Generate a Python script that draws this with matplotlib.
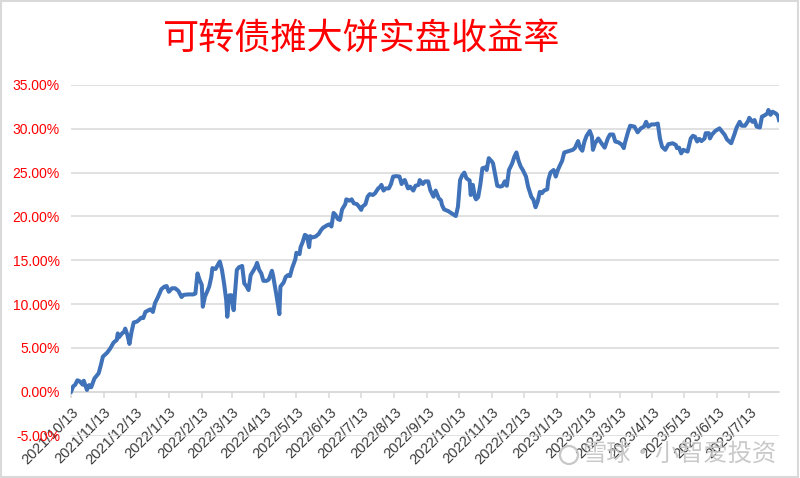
import pandas as pd
import matplotlib
matplotlib.use("Agg")
import matplotlib.pyplot as plt
from matplotlib.patches import Rectangle, Circle

plt.rcParams['font.family'] = ['Liberation Sans', 'Noto Sans CJK SC', 'DejaVu Sans']

# chart data
title = "可转债摊大饼实盘收益率"
watermark = "雪球·小智爱投资"
start_date = "2021-10-13"

# days since start_date
day_offset = [
    0, 2, 4, 6, 8, 11, 12, 15, 17, 19,
    22, 26, 28, 30, 34, 37, 40, 43, 44, 45,
    48, 50, 51, 53, 55, 57, 59, 62, 64, 66,
    68, 70, 73, 75, 77, 79, 82, 85, 88, 90,
    92, 95, 98, 101, 104, 106, 110, 115, 117, 119,
    121, 123, 124, 126, 128, 130, 132, 133, 136, 138,
    140, 142, 144, 146, 147, 149, 151, 153, 156, 158,
    161, 163, 165, 167, 169, 172, 174, 175, 177, 179,
    181, 184, 186, 189, 190, 193, 195, 196, 197, 200,
    202, 204, 206, 208, 211, 212, 215, 216, 218, 220,
    222, 224, 225, 227, 230, 233, 235, 237, 241, 243,
    245, 247, 249, 251, 253, 255, 258, 259, 262, 264,
    266, 269, 271, 273, 274, 277, 279, 281, 284, 286,
    289, 291, 292, 294, 296, 299, 301, 303, 306, 309,
    311, 313, 314, 317, 319, 322, 324, 327, 328, 331,
    333, 336, 338, 341, 343, 346, 348, 349, 351, 355,
    358, 362, 364, 366, 368, 370, 372, 375, 376, 378,
    380, 381, 383, 385, 387, 390, 391, 393, 396, 397,
    401, 404, 406, 408, 410, 412, 415, 417, 419, 421,
    423, 425, 428, 430, 433, 435, 437, 439, 441, 443,
    445, 448, 449, 451, 454, 456, 458, 460, 462, 464,
    468, 472, 474, 477, 479, 481, 483, 485, 488, 490,
    491, 493, 496, 499, 502, 505, 507, 510, 512, 515,
    518, 520, 521, 524, 526, 530, 533, 536, 539, 541,
    543, 546, 549, 552, 554, 556, 559, 562, 566, 569,
    570, 572, 574, 576, 580, 583, 585, 587, 589, 591,
    593, 596, 597, 600, 601, 603, 606, 610, 612, 615,
    617, 621, 624, 626, 629, 631, 634, 637, 638, 641,
    643, 645, 648, 650, 652, 655, 656, 658, 660, 663,
    665, 666,
]

# cumulative return, percent
returns_pct = [
    0.0, 0.6, 0.8, 1.3, 1.2, 0.8, 1.25, 0.2, 0.75, 0.5,
    1.5, 2.1, 3.0, 4.0, 4.45, 4.95, 5.6, 5.9, 6.65, 6.2,
    6.65, 6.85, 7.2, 6.5, 5.45, 6.85, 7.9, 8.0, 8.2, 8.45,
    8.4, 9.1, 9.3, 9.4, 9.1, 10.1, 10.85, 11.7, 12.0, 12.05,
    11.4, 11.8, 11.8, 11.5, 10.8, 11.05, 11.1, 11.1, 11.2, 13.5,
    12.75, 12.2, 9.7, 10.85, 11.4, 12.0, 13.1, 14.1, 14.0, 14.45,
    14.85, 13.9, 12.35, 10.45, 8.55, 11.0, 11.0, 9.3, 13.9, 14.2,
    14.35, 12.35, 12.05, 11.6, 13.3, 13.9, 14.35, 14.7, 13.9, 13.5,
    12.65, 12.65, 12.8, 13.8, 13.3, 11.2, 9.7, 8.85, 12.0, 12.45,
    13.1, 13.3, 13.2, 14.1, 15.1, 15.85, 15.7, 16.5, 17.1, 17.9,
    17.75, 16.5, 17.75, 17.6, 17.7, 18.0, 18.4, 18.7, 19.0, 19.1,
    18.85, 20.4, 20.15, 19.7, 19.6, 20.8, 21.4, 21.95, 21.8, 21.95,
    21.5, 21.4, 21.1, 20.75, 21.1, 21.4, 22.25, 22.55, 22.45, 22.65,
    23.2, 23.4, 23.6, 22.95, 23.2, 23.2, 23.7, 24.55, 24.6, 24.55,
    23.7, 24.1, 24.15, 23.2, 23.4, 22.95, 23.5, 23.6, 24.15, 23.7,
    24.0, 24.0, 23.0, 22.25, 22.95, 22.05, 21.85, 21.3, 20.8, 20.6,
    20.35, 20.05, 21.1, 24.15, 24.7, 25.0, 24.35, 24.1, 22.45, 23.6,
    22.2, 21.95, 22.2, 23.6, 25.5, 25.6, 25.3, 26.65, 26.25, 26.05,
    23.5, 23.4, 23.5, 24.0, 23.5, 25.3, 26.05, 26.8, 27.3, 26.35,
    25.7, 25.3, 24.55, 23.4, 22.25, 21.9, 21.05, 21.7, 22.8, 22.65,
    22.95, 23.1, 24.15, 25.0, 25.3, 24.55, 25.3, 25.85, 26.35, 27.3,
    27.45, 27.6, 27.8, 28.6, 27.8, 27.5, 28.55, 29.2, 29.75, 29.1,
    27.6, 28.35, 28.9, 28.35, 27.85, 28.9, 29.35, 29.35, 28.55, 28.45,
    28.2, 27.8, 28.35, 29.65, 30.35, 30.25, 29.6, 30.05, 30.25, 30.8,
    30.25, 30.5, 30.5, 30.6, 28.9, 27.95, 27.6, 28.25, 28.35, 28.15,
    27.8, 27.85, 27.2, 27.6, 27.4, 28.9, 29.2, 29.1, 28.55, 28.85,
    28.6, 28.9, 29.5, 29.5, 28.9, 29.35, 29.75, 30.05, 29.75, 29.3,
    28.8, 28.35, 29.35, 30.1, 30.8, 30.35, 30.35, 30.9, 31.25, 30.8,
    31.0, 30.25, 30.15, 31.4, 31.5, 31.75, 32.15, 31.6, 31.95, 31.75,
    31.5, 31.0,
]

tick_dates = [
    "2021-10-13", "2021-11-13", "2021-12-13", "2022-01-13", "2022-02-13",
    "2022-03-13", "2022-04-13", "2022-05-13", "2022-06-13", "2022-07-13",
    "2022-08-13", "2022-09-13", "2022-10-13", "2022-11-13", "2022-12-13",
    "2023-01-13", "2023-02-13", "2023-03-13", "2023-04-13", "2023-05-13",
    "2023-06-13", "2023-07-13",
]
tick_labels = [
    "2021/10/13", "2021/11/13", "2021/12/13", "2022/1/13", "2022/2/13",
    "2022/3/13", "2022/4/13", "2022/5/13", "2022/6/13", "2022/7/13",
    "2022/8/13", "2022/9/13", "2022/10/13", "2022/11/13", "2022/12/13",
    "2023/1/13", "2023/2/13", "2023/3/13", "2023/4/13", "2023/5/13",
    "2023/6/13", "2023/7/13",
]
y_ticks = [-5, 0, 5, 10, 15, 20, 25, 30, 35]

start = pd.Timestamp(start_date)
dates = start + pd.to_timedelta(day_offset, unit='D')

fig = plt.figure(figsize=(8, 4.78), dpi=100)
ax = fig.add_axes([71 / 800, 1 - 435.5 / 478, 708 / 800, 350.5 / 478])

ax.plot(dates, returns_pct, color='#3F72B8', lw=2.9, solid_joinstyle='round', zorder=3)

ax.set_ylim(-5, 35)
ax.set_xlim(start, start + pd.Timedelta(days=666))

# y axis: red percent labels, no axis line
ax.set_yticks(y_ticks)
ax.set_yticklabels([f"{v:.2f}%" for v in y_ticks], color='red', fontsize=10)
ax.tick_params(axis='y', length=0, pad=8)
ax.grid(axis='y', color='#D9D9D9', lw=1.1)
ax.set_axisbelow(True)

for s in ['left', 'right', 'top']:
    ax.spines[s].set_visible(False)
ax.spines['bottom'].set_position(('data', 0))
ax.spines['bottom'].set_color('#D9D9D9')
ax.spines['bottom'].set_linewidth(1.1)

# x axis: monthly date labels, rotated
ax.set_xticks(pd.to_datetime(tick_dates))
ax.set_xticklabels(tick_labels, rotation=45, ha='right', va='top',
                   rotation_mode='anchor', fontsize=10.5, color='#3A3A3A')
ax.tick_params(axis='x', length=4, color='#D9D9D9', width=1.1, pad=6)

fig.text(362 / 800, 1 - 38.5 / 478, title, ha='center', va='center',
         color='red', fontsize=26, family=['Noto Sans CJK SC'])

# watermark
fig.text(582 / 800, 1 - 455 / 478, watermark, ha='left', va='center',
         color='#C4C4C4', fontsize=17.5, alpha=0.9,
         family=['Noto Sans CJK SC', 'DejaVu Sans'])
fig.patches.append(Circle((569, 478 - 455), 9, transform=None, fill=False,
                          edgecolor='#C8C8C8', lw=1.6))

# chart area border
fig.patches.append(Rectangle((0.001, 0.002), 0.997, 0.996, transform=fig.transFigure,
                             fill=False, edgecolor='#D9D9D9', lw=1.5))

fig.savefig("out.png", dpi=100)
